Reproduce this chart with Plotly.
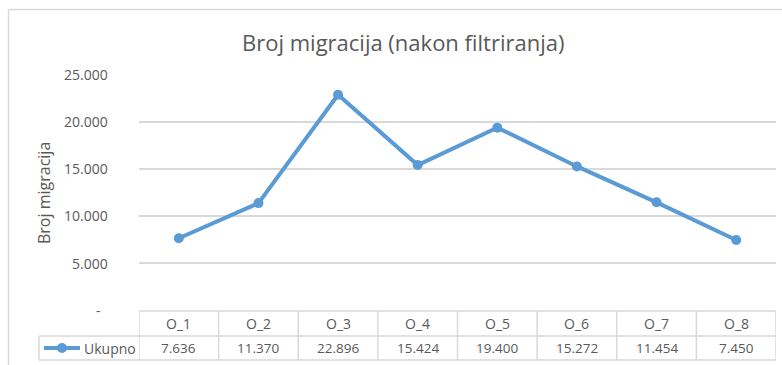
import plotly.graph_objects as go

# Data
categories = ["O_1", "O_2", "O_3", "O_4", "O_5", "O_6", "O_7", "O_8"]
ukupno = [7636, 11370, 22896, 15424, 19400, 15272, 11454, 7450]
series_name = "Ukupno"
y_tick_vals = [0, 5000, 10000, 15000, 20000, 25000]
y_tick_text = ["-", "5.000", "10.000", "15.000", "20.000", "25.000"]

W, H = 782, 365
FONT = "Open Sans"
TXT = "#595959"
GRID = "#D9D9D9"
BLUE = "#5B9BD5"


def px_x(p):
    return p / W


def px_y(p):
    return 1 - p / H


def fmt(v):
    return f"{v:,}".replace(",", ".")


x_idx = list(range(len(categories)))

fig = go.Figure()
fig.add_trace(go.Scatter(
    x=x_idx, y=ukupno, mode="lines+markers", name=series_name,
    line=dict(color=BLUE, width=4),
    marker=dict(color=BLUE, size=10),
    showlegend=False, hoverinfo="skip",
))

plot_left, plot_right = 139, 776
plot_top, plot_bottom = 75, 310

fig.update_layout(
    width=W, height=H,
    margin=dict(l=0, r=0, t=0, b=0, autoexpand=False),
    paper_bgcolor="white", plot_bgcolor="white",
    font=dict(family=FONT, color=TXT, size=14),
    xaxis=dict(
        domain=[px_x(plot_left), px_x(plot_right)],
        range=[-0.5, len(categories) - 0.5],
        showticklabels=False, showgrid=False, zeroline=False, showline=False,
        automargin=False, fixedrange=True,
    ),
    yaxis=dict(
        domain=[px_y(plot_bottom), px_y(plot_top)],
        range=[0, 25000],
        tickvals=y_tick_vals, showticklabels=False,
        showgrid=True, gridcolor=GRID, gridwidth=1.5,
        zeroline=False, showline=False, ticks="",
        automargin=False, fixedrange=True,
    ),
)

shapes = []
line = dict(color=GRID, width=1.5)
# outer chart border (left and top edges visible)
shapes.append(dict(type="line", xref="paper", yref="paper",
                   x0=px_x(8.5), x1=1.0, y0=px_y(9.5), y1=px_y(9.5), line=line))
shapes.append(dict(type="line", xref="paper", yref="paper",
                   x0=px_x(8.5), x1=px_x(8.5), y0=px_y(9.5), y1=0.0, line=line))

# data table below the axis
row_top, row_mid, row_bot = 311, 336, 360
table_left = 39
shapes.append(dict(type="line", xref="x", yref="paper", x0=-0.5, x1=len(categories) - 0.5,
                   y0=px_y(row_top), y1=px_y(row_top), line=line))
for yy in (row_mid, row_bot):
    shapes.append(dict(type="line", xref="paper", yref="paper", x0=px_x(table_left),
                       x1=px_x(plot_right), y0=px_y(yy), y1=px_y(yy), line=line))
for i in range(len(categories) + 1):
    shapes.append(dict(type="line", xref="x", yref="paper", x0=i - 0.5, x1=i - 0.5,
                       y0=px_y(row_top), y1=px_y(row_bot), line=line))
shapes.append(dict(type="line", xref="paper", yref="paper", x0=px_x(table_left),
                   x1=px_x(table_left), y0=px_y(row_mid), y1=px_y(row_bot), line=line))
# legend key in the table
key_y = (row_mid + row_bot) / 2
shapes.append(dict(type="line", xref="paper", yref="paper", x0=px_x(44), x1=px_x(80),
                   y0=px_y(key_y), y1=px_y(key_y), line=dict(color=BLUE, width=4)))
shapes.append(dict(type="circle", xref="paper", yref="paper",
                   x0=px_x(57), x1=px_x(67), y0=px_y(key_y + 5), y1=px_y(key_y - 5),
                   line=dict(color=BLUE, width=0), fillcolor=BLUE))

annotations = []
# y tick labels
for v, t in zip(y_tick_vals, y_tick_text):
    annotations.append(dict(x=px_x(103 if t == "-" else 110), y=v, xref="paper", yref="y",
                            text=t, showarrow=False, xanchor="right", yanchor="middle",
                            font=dict(size=14, color=TXT)))
for i, (c, v) in enumerate(zip(categories, ukupno)):
    annotations.append(dict(x=i, y=px_y((row_top + row_mid) / 2), xref="x", yref="paper",
                            text=c, showarrow=False, xanchor="center", yanchor="middle",
                            font=dict(size=14, color=TXT)))
    annotations.append(dict(x=i, y=px_y((row_mid + row_bot) / 2), xref="x", yref="paper",
                            text=fmt(v), showarrow=False, xanchor="center", yanchor="middle",
                            font=dict(size=13.5, color=TXT)))
annotations.append(dict(x=px_x(82), y=px_y(key_y), xref="paper", yref="paper",
                        text=series_name, showarrow=False, xanchor="left", yanchor="middle",
                        font=dict(size=14, color=TXT)))
# chart title
annotations.append(dict(x=px_x(403), y=px_y(42), xref="paper", yref="paper",
                        text="Broj migracija (nakon filtriranja)", showarrow=False,
                        xanchor="center", yanchor="middle",
                        font=dict(size=22, color=TXT)))
# y-axis title
annotations.append(dict(x=px_x(44), y=px_y(193), xref="paper", yref="paper",
                        text="Broj migracija", textangle=-90, showarrow=False,
                        xanchor="center", yanchor="middle",
                        font=dict(size=16, color=TXT)))

fig.update_layout(shapes=shapes, annotations=annotations)
fig.write_html("out.html")
